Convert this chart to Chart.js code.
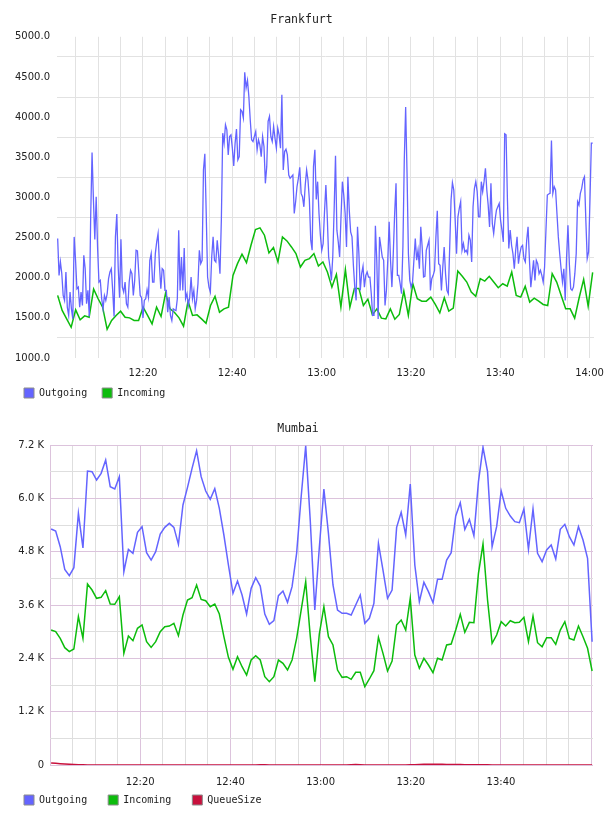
<!DOCTYPE html>
<html>
<head>
<meta charset="utf-8">
<title>Frankfurt / Mumbai traffic</title>
<script src="https://cdn.jsdelivr.net/npm/chart.js@4.4.1/dist/chart.umd.min.js"></script>
<style>
    html, body { margin: 0; padding: 0; background: #fff; overflow: hidden; }
    .box { position: relative; width: 608px; overflow: hidden; }
    #boxFra { height: 410px; }
    #boxMum { height: 406px; }
    canvas { display: block; }
</style>
</head>
<body>
<div class="box" id="boxFra"><canvas id="chartFrankfurt" width="640" height="410"></canvas></div>
<div class="box" id="boxMum"><canvas id="chartMumbai" width="640" height="406"></canvas></div>
<script>
// minutes after 12:00 of the first sample, and sample spacing (minutes)
const fraStart = 0.9;
const fraOutStep = 0.308;
const fraInStep = 1.0067;
const mumStart = 0.25;
const mumStep = 1.008;

const seriesNames = ["Outgoing", "Incoming", "QueueSize"];

// Frankfurt - Outgoing (about every 20 s)
const fraOutgoing = [
    2488, 2029, 2196, 2050, 1779, 1717, 2071, 1633, 1530, 1821,
    1612, 1487, 2508, 2217, 1862, 1883, 1633, 1821, 1654, 2279,
    2112, 1675, 1842, 1517, 2758, 3558, 2967, 2475, 3008, 2383,
    1946, 1967, 1738, 1612, 1779, 1717, 1800, 1988, 2071, 2112,
    1842, 1517, 2508, 2792, 2133, 1750, 2479, 1883, 1821, 1946,
    1675, 1633, 1946, 2092, 2050, 1779, 1967, 2342, 2333, 2050,
    1779, 1750, 1500, 1717, 1738, 1850, 1758, 2217, 2300, 1946,
    1946, 2300, 2446, 2550, 2154, 1862, 2112, 2092, 1842, 1842,
    1571, 1758, 1530, 1467, 1612, 1600, 1592, 1738, 2592, 1842,
    2258, 1842, 2371, 1738, 1800, 1654, 1758, 2008, 1738, 1842,
    1612, 1717, 1925, 2342, 2175, 2217, 3342, 3542, 2800, 2008,
    1883, 1821, 2258, 2508, 2217, 2196, 2467, 2279, 2050, 2717,
    3800, 3675, 3904, 3842, 3529, 3758, 3779, 3613, 3392, 3675,
    3850, 3467, 3508, 4092, 4071, 3988, 4558, 4363, 4458, 4258,
    3967, 3717, 3696, 3758, 3821, 3592, 3717, 3654, 3508, 3758,
    3633, 3175, 3383, 3946, 4008, 3758, 3696, 3883, 3738, 3613,
    3863, 3779, 3613, 4279, 3342, 3571, 3600, 3529, 3279, 3238,
    3258, 3279, 2800, 2946, 3133, 3238, 3375, 3050, 3008, 2883,
    3154, 3342, 3217, 2967, 2467, 2342, 3383, 3592,
    2975, 3196, 2800, 2529, 2342, 2425, 2821, 3154, 2758,
    2258, 2133, 1967, 2258, 2842, 3517, 2592, 2446, 2258, 2758,
    3196, 3029, 2800, 2383, 3258, 2842, 2571, 2508, 2154, 1883,
    1717, 2633, 2300, 1842, 2050, 2142, 1883, 2029, 2071, 2008,
    2008, 1800, 1530, 1530, 2646, 2217, 1487, 2508, 2383, 2258,
    2217, 1654, 1842, 2217, 2696, 2217, 1883, 2300, 2800, 3175,
    2029, 2029, 1925, 1800, 2383, 3467, 4125, 3300, 2300, 1967,
    1883, 1946, 2217, 2487, 2217, 2342, 2112, 2633, 2383, 2008,
    2017, 2342, 2404, 2467, 1842, 1988, 2029, 2092, 2508, 2833,
    2175, 2154, 1842, 2133, 2383, 2050, 1842, 1800, 2363, 2967,
    3183, 3092, 2717,
    2300, 2758, 2862, 2946, 2342, 2425, 2321, 2342, 2300, 2529,
    2467, 2196, 2883, 3113, 3196, 3071, 2758, 2758, 3196, 3071,
    3196, 3363, 3092, 2904, 2633, 3175, 2675, 2550, 2717, 2842,
    2883, 2925, 2717, 2592, 2446, 3792, 3779, 2967, 2363, 2592,
    2404, 2300, 2112, 2342, 2508, 2175, 2300, 2383, 2404, 2238,
    2196, 2467, 2633, 2217, 1883, 2050, 2217, 1967, 2217, 2175,
    2050, 2092, 2029, 1946, 2133, 2592, 3029, 3042, 3050, 3708,
    3050, 3133, 3092, 2800, 2508, 2300, 2112, 1946, 2112, 1717,
    2258, 2654, 2175, 1862, 1842, 1883, 2050, 2300, 2946, 2904,
    3050, 3113, 3217, 3258, 2717, 2238, 2321, 2967, 3675, 3675
];

// Frankfurt - Incoming (about every minute)
const fraIncoming = [
    1780, 1592, 1487, 1383, 1600, 1475, 1525, 1508, 1858, 1738,
    1633, 1358, 1467, 1530, 1583, 1508, 1500, 1467, 1467, 1633,
    1530, 1425, 1633, 1517, 1808, 1612, 1567, 1500, 1396, 1708,
    1530, 1537, 1487, 1433, 1654, 1767, 1571, 1612, 1633, 2029,
    2175, 2292, 2187, 2404, 2600, 2621, 2529, 2308, 2375, 2196,
    2508, 2458, 2383, 2300, 2133, 2217, 2238, 2300, 2146, 2196,
    2071, 1883, 2042, 1633, 2100, 1633, 1867, 1867, 1654, 1733,
    1537, 1612, 1496, 1487, 1612, 1483, 1542, 1833, 1530, 1925,
    1738, 1708, 1708, 1758, 1667, 1562, 1750, 1583, 1621, 2083,
    2017, 1946, 1821, 1767, 1988, 1958, 2017, 1946, 1875, 1925,
    1896, 2071, 1779, 1758, 1892, 1696, 1746, 1708, 1667, 1654,
    2050, 1946, 1779, 1612, 1612, 1496, 1750, 1979, 1646, 2067
];

// Mumbai (about every minute)
const mumOutgoing = [
    5310, 5265, 4912, 4402, 4260, 4440, 5662, 4882, 6615, 6600,
    6412, 6562, 6862, 6262, 6210, 6487, 4350, 4852, 4762, 5235,
    5362, 4777, 4612, 4800, 5197, 5347, 5437, 5347, 4965, 5850,
    6247, 6675, 7072, 6487, 6165, 5977, 6217, 5775, 5175, 4500,
    3862, 4140, 3825, 3397, 3975, 4215, 4027, 3397, 3165, 3247,
    3810, 3915, 3660, 4012, 4762, 6037, 7180, 5500, 3487, 4900,
    6210, 5212, 4050, 3487, 3412, 3412, 3375, 3600, 3825, 3187,
    3300, 3637, 4987, 4387, 3750, 3937, 5347, 5685, 5175, 6322,
    4500, 3675, 4110, 3900, 3652, 4177, 4177, 4612, 4777, 5602,
    5902, 5302, 5527, 5160, 6375, 7147, 6600, 4912, 5362, 6165,
    5775, 5602, 5475, 5452, 5760, 4852, 5760, 4762, 4575, 4837,
    4950, 4635, 5302, 5415, 5137, 4950, 5362, 5062, 4650, 2775
];

const mumIncoming = [
    3037, 3000, 2850, 2640, 2550, 2610, 3337, 2850, 4072, 3937,
    3750, 3772, 3922, 3622, 3615, 3787, 2512, 2902, 2797, 3075,
    3150, 2775, 2647, 2775, 3000, 3112, 3127, 3187, 2910, 3375,
    3712, 3765, 4050, 3727, 3697, 3562, 3622, 3397, 2887, 2422,
    2152, 2437, 2212, 2025, 2362, 2460, 2362, 1987, 1875, 1987,
    2362, 2287, 2137, 2362, 2850, 3487, 4125, 2900, 1875, 2950,
    3562, 2887, 2700, 2137, 1972, 1987, 1927, 2085, 2085, 1762,
    1935, 2122, 2872, 2512, 2115, 2340, 3150, 3262, 3037, 3750,
    2475, 2175, 2400, 2250, 2077, 2400, 2362, 2700, 2722, 3037,
    3390, 2985, 3210, 3202, 4312, 4972, 3712, 2737, 2925, 3225,
    3127, 3247, 3202, 3210, 3322, 2775, 3352, 2752, 2662, 2865,
    2865, 2715, 3037, 3225, 2850, 2812, 3127, 2887, 2625, 2115
];

const mumQueue = [
    45, 38, 30, 23, 17, 11, 6, 3, 1, 0,
    0, 0, 0, 0, 0, 0, 0, 0, 0, 0,
    0, 0, 0, 0, 0, 0, 0, 0, 0, 0,
    0, 0, 0, 0, 0, 0, 0, 0, 0, 0,
    0, 0, 0, 0, 0, 2, 5, 3, 0, 0,
    0, 0, 0, 0, 0, 0, 0, 0, 0, 0,
    0, 0, 0, 0, 0, 0, 4, 9, 6, 2,
    0, 0, 0, 0, 0, 0, 0, 0, 0, 3,
    8, 12, 15, 17, 18, 18, 16, 14, 12, 10,
    9, 8, 7, 6, 5, 4, 3, 2, 1, 0,
    0, 0, 0, 0, 0, 0, 0, 0, 0, 0,
    0, 0, 0, 0, 0, 0, 0, 0, 0, 0
];

const colOut = "#6464ff";
const colIn = "#0cbc0c";
const colQueue = "#c8103c";

const tickFont = { family: "'DejaVu Sans', sans-serif", size: 10 };
const monoFont = { family: "'DejaVu Sans Mono', monospace", size: 10 };
const titleFont = { family: "'DejaVu Sans Mono', monospace", size: 11.5, weight: "normal" };

function toPoints(values, start, step) {
    return values.map((v, i) => ({ x: start + i * step, y: v }));
}

function hhmm(m) {
    const t = 12 * 60 + Math.round(m);
    const h = Math.floor(t / 60);
    const mm = t % 60;
    return h + ":" + String(mm).padStart(2, "0");
}

function legendLabels(chart) {
    return Chart.defaults.plugins.legend.labels.generateLabels(chart).map((l) => ({
        ...l,
        strokeStyle: "#8c8c8c",
        lineWidth: 1,
    }));
}

// x axis kept short so the legend sits close; let its labels draw past it
function shortXAxis(h) {
    return (scale) => {
        scale.height = h;
        scale._computeLabelArea = () => undefined;
    };
}

function lineSet(label, values, start, step, color, width) {
    return {
        label: label,
        data: toPoints(values, start, step),
        borderColor: color,
        backgroundColor: color,
        borderWidth: width,
        pointRadius: 0,
        tension: 0,
        fill: false,
    };
}

// Frankfurt
new Chart(document.getElementById("chartFrankfurt"), {
    type: "line",
    data: {
        datasets: [
            lineSet(seriesNames[0], fraOutgoing, fraStart, fraOutStep, colOut, 1.3),
            lineSet(seriesNames[1], fraIncoming, fraStart, fraInStep, colIn, 1.5),
        ],
    },
    options: {
        responsive: false,
        animation: false,
        layout: { padding: { left: 9, right: 46, top: 0, bottom: 2 } },
        plugins: {
            title: {
                display: true,
                text: "Frankfurt",
                color: "#222",
                font: titleFont,
                padding: { top: 13, bottom: 10 },
            },
            legend: {
                position: "bottom",
                align: "start",
                labels: {
                    boxWidth: 10,
                    boxHeight: 10,
                    padding: 15,
                    color: "#222",
                    font: monoFont,
                    generateLabels: legendLabels,
                },
            },
            tooltip: { enabled: false },
        },
        scales: {
            x: {
                type: "linear",
                min: 0.75,
                max: 121,
                border: { display: false },
                grid: { color: "#e2e2e2", drawTicks: false },
                ticks: {
                    stepSize: 5,
                    includeBounds: false,
                    autoSkip: false,
                    maxRotation: 0,
                    padding: 9,
                    color: "#222",
                    font: tickFont,
                    callback: (v) => (v % 20 === 0 ? hhmm(v) : ""),
                },
                afterFit: shortXAxis(15),
            },
            y: {
                min: 1000,
                max: 5000,
                border: { display: false },
                grid: { color: "#e2e2e2", drawTicks: false, offset: true },
                ticks: {
                    stepSize: 500,
                    padding: 7,
                    color: "#222",
                    font: tickFont,
                    callback: (v) => v.toFixed(1),
                },
                afterFit: (scale) => { scale.width = 48; },
            },
        },
    },
});

// Mumbai
const minorGrid = "#dedede";
const majorGrid = "#dcc3dc";

new Chart(document.getElementById("chartMumbai"), {
    type: "line",
    data: {
        datasets: [
            lineSet(seriesNames[0], mumOutgoing, mumStart, mumStep, colOut, 1.5),
            lineSet(seriesNames[1], mumIncoming, mumStart, mumStep, colIn, 1.5),
            lineSet(seriesNames[2], mumQueue, mumStart, mumStep, colQueue, 1.5),
        ],
    },
    options: {
        responsive: false,
        animation: false,
        layout: { padding: { left: 3, right: 47, top: 0, bottom: 1 } },
        plugins: {
            title: {
                display: true,
                text: "Mumbai",
                color: "#222",
                font: titleFont,
                padding: { top: 12, bottom: 9.2 },
            },
            legend: {
                position: "bottom",
                align: "start",
                labels: {
                    boxWidth: 10,
                    boxHeight: 10,
                    padding: 21,
                    color: "#222",
                    font: monoFont,
                    generateLabels: legendLabels,
                },
            },
            tooltip: { enabled: false },
        },
        scales: {
            x: {
                type: "linear",
                min: 0,
                max: 120.4,
                border: { display: false },
                grid: {
                    drawTicks: false,
                    color: (ctx) => (ctx.tick && ctx.tick.value % 20 === 0 ? majorGrid : minorGrid),
                },
                ticks: {
                    stepSize: 5,
                    includeBounds: false,
                    autoSkip: false,
                    maxRotation: 0,
                    padding: 11,
                    color: "#222",
                    font: tickFont,
                    callback: (v) => (v % 20 === 0 && v > 0 && v < 120 ? hhmm(v) : ""),
                },
                afterFit: shortXAxis(9),
            },
            y: {
                min: 0,
                max: 7200,
                border: { display: false },
                grid: {
                    drawTicks: false,
                    color: (ctx) => (ctx.tick && ctx.tick.value % 1200 === 0 ? majorGrid : minorGrid),
                },
                ticks: {
                    stepSize: 600,
                    padding: 6,
                    color: "#222",
                    font: tickFont,
                    callback: (v) => {
                        if (v % 1200 !== 0) return "";
                        return v === 0 ? "0" : (v / 1000).toFixed(1) + " K";
                    },
                },
                afterFit: (scale) => { scale.width = 47; },
            },
        },
    },
});
</script>
</body>
</html>
